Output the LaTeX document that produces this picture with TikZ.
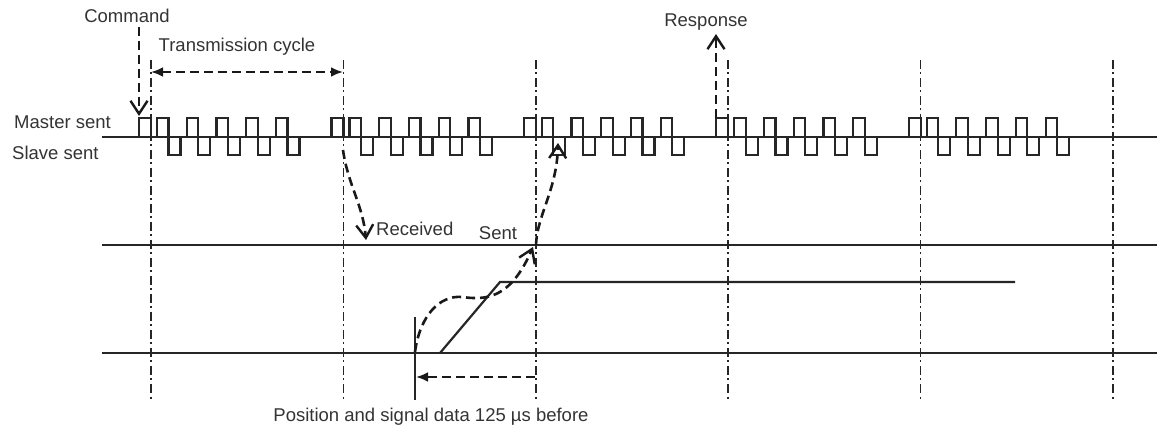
\documentclass[tikz,border=0pt]{standalone}
\usepackage{fontspec}
\setmainfont{Liberation Sans}
\usetikzlibrary{arrows.meta}
\begin{document}
\begin{tikzpicture}[x=1pt,y=-1pt,
  lbl/.style={font=\fontsize{18.5}{20}\selectfont, text=black!80, inner sep=0pt},
  sig/.style={line width=2.2pt, draw=black!85, line join=miter},
  gridline/.style={line width=1.6pt, draw=black!85, dash pattern=on 9pt off 3.5pt on 2pt off 3.5pt},
  dasharrow/.style={line width=2.6pt, draw=black!90, dash pattern=on 9pt off 5pt},
  openhead/.style={-{Straight Barb[length=13pt,width=17pt,line width=2.4pt]}},
  fillhead/.style={-{Latex[length=12pt,width=10pt]}}]
\useasboundingbox (0,0) rectangle (1157,430);

% baselines
\draw[sig] (102,137) -- (1157,137);
\draw[sig] (102,245) -- (1157,245);
\draw[sig] (102,353) -- (1157,353);
\draw[sig] (440,353) -- (500,282) -- (1015,282);
\draw[sig] (415,317) -- (415,400);

% waveforms
\foreach \g in {0,...,4} {
  \pgfmathsetmacro\xo{139+192.4*\g}
  \draw[sig] (\xo,137) -- ++(0,-19) -- ++(12,0) -- ++(0,19);
  \foreach \k in {0,...,4} {
    \pgfmathsetmacro\a{\xo+18+29.75*\k}
    \draw[sig] (\a,137) -- ++(0,-19) -- ++(11.5,0) -- ++(0,37) -- ++(12,0) -- ++(0,-18);
  }
}

% dash-dot cycle lines
\foreach \i in {0,...,5} {
  \draw[gridline] ({151+192.4*\i},60) -- ({151+192.4*\i},400);
}

% labels
\node[lbl] (cmd) at (127,16) {Command};
\node[lbl] (tc) at (237,47) {Transmission cycle};
\node[lbl] (resp) at (706,22) {Response};
\node[lbl, anchor=west] (ms) at (14,122) {Master sent};
\node[lbl, anchor=west] (ss) at (12,153) {Slave sent};
\node[lbl, anchor=west] (recv) at (376,229) {Received};
\node[lbl] (sent) at (498,233) {Sent};
\node[lbl] (pos) at (431,417) {Position and signal data 125 µs before};

% coordinates
\coordinate (cmdtop) at (139,27);
\coordinate (cmdtip) at (139,116);
\coordinate (tcl) at (151,72);
\coordinate (tcr) at (343,72);
\coordinate (respbot) at (716,118);
\coordinate (resptip) at (716,34);
\coordinate (recvstart) at (343,150);
\coordinate (recvtip) at (366,240);
\coordinate (sentstart) at (415,352);
\coordinate (sentmid) at (462,297);
\coordinate (senttip) at (533,247);
\coordinate (sent2start) at (536,245);
\coordinate (sent2tip) at (558,143);
\coordinate (posr) at (535,377);
\coordinate (posl) at (416,377);

% arrows
\draw[dasharrow, openhead] (cmdtop) -- (cmdtip);
\draw[dasharrow, {Latex[length=12pt,width=10pt]}-{Latex[length=12pt,width=10pt]}] (tcl) -- (tcr);
\draw[dasharrow, openhead] (respbot) -- (resptip);
\draw[dasharrow, openhead] (recvstart) .. controls (348,185) and (363,205) .. (recvtip);
\draw[dasharrow, openhead] (sentstart) .. controls (420,315) and (440,295) .. (sentmid)
   .. controls (485,300) and (510,300) .. (senttip);
\draw[dasharrow, openhead] (sent2start) .. controls (537,215) and (557,190) .. (sent2tip);
\draw[dasharrow, fillhead] (posr) -- (posl);
\end{tikzpicture}
\end{document}
